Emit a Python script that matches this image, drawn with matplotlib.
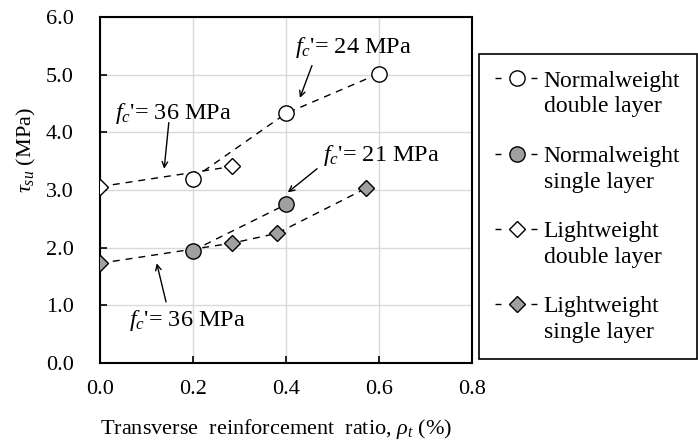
import numpy as np
import matplotlib
matplotlib.use('Agg')
import matplotlib.pyplot as plt
from matplotlib.lines import Line2D
from matplotlib.legend_handler import HandlerLine2D

plt.rcParams['font.family'] = ['Liberation Serif', 'DejaVu Serif']
plt.rcParams['mathtext.fontset'] = 'custom'
plt.rcParams['mathtext.rm'] = 'Liberation Serif'
plt.rcParams['mathtext.it'] = 'Liberation Serif:italic'

# data
nw_double_x = [0.2, 0.4, 0.6]
nw_double_y = [3.20, 4.33, 5.02]
nw_single_x = [0.2, 0.4]
nw_single_y = [1.95, 2.75]
lw_double_x = [0.0, 0.285]
lw_double_y = [3.06, 3.41]
lw_single_x = [0.0, 0.285, 0.381, 0.572]
lw_single_y = [1.73, 2.08, 2.25, 3.03]

labels = ['Normalweight\ndouble layer', 'Normalweight\nsingle layer',
          'Lightweight\ndouble layer', 'Lightweight\nsingle layer']

# (text, text pos, arrow tail, arrow head)
notes = [
    ("$f_c$'= 24 MPa", (0.546, 5.47), (0.456, 5.16), (0.430, 4.60)),
    ("$f_c$'= 36 MPa", (0.157, 4.33), (0.148, 4.17), (0.138, 3.37)),
    ("$f_c$'= 21 MPa", (0.605, 3.60), (0.467, 3.37), (0.404, 2.96)),
    ("$f_c$'= 36 MPa", (0.188, 0.74), (0.142, 1.06), (0.122, 1.73)),
]

gray = '#a0a0a0'
dash = (0, (5, 4.3))

fig = plt.figure(figsize=(6.98, 4.4), dpi=100)
ax = fig.add_axes([0.1433, 0.175, 0.5327, 0.786])

ax.plot(lw_double_x, lw_double_y, color='k', lw=1, ls=dash, marker='D', ms=8,
        mfc='white', mec='k', mew=1, zorder=3)
ax.plot(lw_single_x, lw_single_y, color='k', lw=1, ls=dash, marker='D', ms=8,
        mfc=gray, mec='k', mew=1, zorder=3)
ax.plot(nw_double_x, nw_double_y, color='k', lw=1, ls=dash, marker='o', ms=11,
        mfc='white', mec='k', mew=1, zorder=4)
ax.plot(nw_single_x, nw_single_y, color='k', lw=1, ls=dash, marker='o', ms=11,
        mfc=gray, mec='k', mew=1, zorder=4)

for txt, tpos, tail, head in notes:
    ax.text(tpos[0], tpos[1], txt, fontsize=17.5, ha='center', va='center', zorder=5)
    ax.annotate('', xy=head, xytext=tail,
                arrowprops=dict(arrowstyle='->', color='k', lw=1,
                                shrinkA=0, shrinkB=0), zorder=5)

ax.set_xlim(0, 0.8)
ax.set_ylim(0, 6.0)
ax.set_xticks(np.arange(0, 0.81, 0.2))
ax.set_yticks(np.arange(0, 6.01, 1.0))
ax.xaxis.set_major_formatter('{x:.1f}')
ax.yaxis.set_major_formatter('{x:.1f}')
ax.grid(True, color='#d9d9d9', lw=1)
ax.set_axisbelow(True)
for s in ax.spines.values():
    s.set_linewidth(1.5)
    s.set_color('k')
ax.tick_params(axis='both', direction='in', length=5, width=1.2, labelsize=16)
ax.tick_params(axis='x', pad=12)
ax.tick_params(axis='y', pad=19)

ax.set_xlabel('Transverse  reinforcement  ratio, $\\rho_t$ (%)', fontsize=16)
ax.set_ylabel('$\\tau_{su}$ (MPa)', fontsize=16)
ax.xaxis.set_label_coords(0.473, -0.155)
ax.yaxis.set_label_coords(-0.167, 0.615)


class HandlerUp(HandlerLine2D):
    def create_artists(self, legend, orig_handle, xdescent, ydescent,
                       width, height, fontsize, trans):
        arts = super().create_artists(legend, orig_handle, xdescent, ydescent,
                                      width, height, fontsize, trans)
        for a in arts:
            a.set_ydata(np.asarray(a.get_ydata()) + 0.65 * fontsize)
        return arts


# one short dash each side of the marker
leg_dash = (0, (4.3, 21.6))
handles = [
    Line2D([], [], color='k', lw=1, ls=leg_dash, marker='o', ms=11, mfc='white', mec='k'),
    Line2D([], [], color='k', lw=1, ls=leg_dash, marker='o', ms=11, mfc=gray, mec='k'),
    Line2D([], [], color='k', lw=1, ls=leg_dash, marker='D', ms=8, mfc='white', mec='k'),
    Line2D([], [], color='k', lw=1, ls=leg_dash, marker='D', ms=8, mfc=gray, mec='k'),
]
leg = fig.legend(handles, labels, loc='upper left',
                 bbox_to_anchor=(0.686, 0.193, 0.312, 0.684), mode='expand',
                 borderaxespad=0, fontsize=17, numpoints=1, handlelength=1.8,
                 handletextpad=0.25, labelspacing=1.2, borderpad=0.7,
                 fancybox=False, framealpha=1,
                 handler_map={Line2D: HandlerUp()})
for t in leg.get_texts():
    t.set_linespacing(1.3)
leg.get_frame().set_edgecolor('k')
leg.get_frame().set_linewidth(1.2)

fig.savefig('out.png', dpi=100)
